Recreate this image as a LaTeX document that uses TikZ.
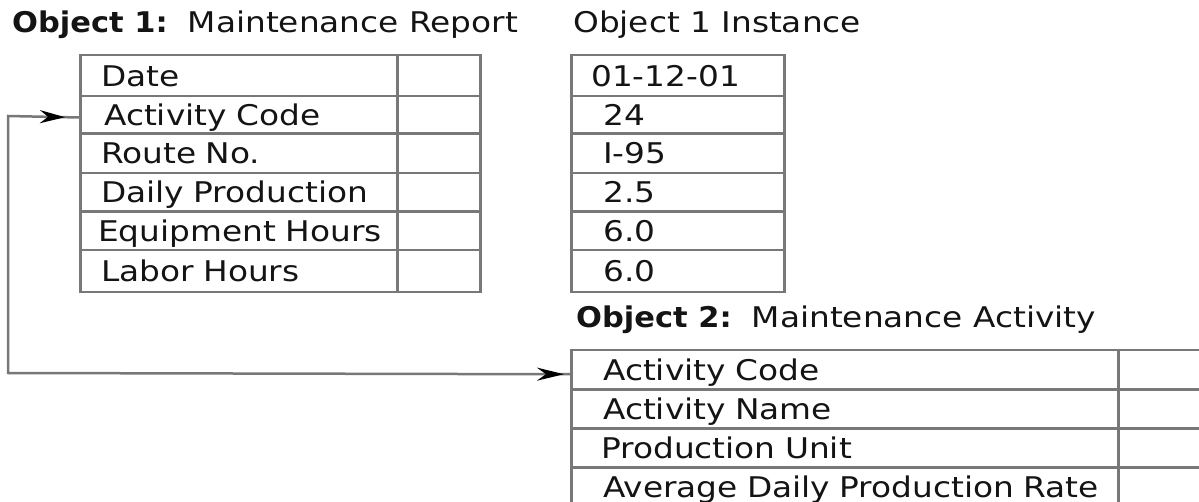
\documentclass[tikz,border=0pt]{standalone}
\usepackage{fontspec}
\setmainfont{DejaVu Sans}[FakeStretch=1.15, BoldFeatures={FakeStretch=1.07}]
\usetikzlibrary{arrows.meta,decorations.markings}
\definecolor{linegray}{HTML}{787878}
\definecolor{txt}{HTML}{141414}
\tikzset{
  txtfont/.style={font=\fontsize{28.5pt}{34pt}\selectfont, text=txt},
  cellbox/.style={draw=linegray, line width=2.5pt, rectangle, anchor=north west,
    inner ysep=0pt, text height=20.8pt, text depth=0pt, align=left, txtfont},
  caption/.style={anchor=base west, inner sep=0pt, txtfont},
  conn/.style={draw=linegray, line width=2.5pt,
    postaction={decorate, decoration={markings,
      mark=at position 14pt with {\arrowreversed[black]{Stealth[length=25pt,width=13pt,inset=8pt]}},
      mark=at position -6pt with {\arrow[black]{Stealth[length=27pt,width=13pt,inset=9pt]}}}}}
}
\begin{document}
\begin{tikzpicture}[x=1pt,y=-1pt]
\useasboundingbox (0,0) rectangle (1199,502);
\clip (0,0) rectangle (1199,502);
\fill[white] (0,0) rectangle (1199,502);

% captions
\node[caption] (cap1) at (12,33) {\textbf{Object 1:}\hspace{20pt}Maintenance Report};
\node[caption] (cap2) at (573,33) {Object 1 Instance};
\node[caption] (cap3) at (576,328) {\textbf{Object 2:}\hspace{20pt}Maintenance Activity};

% Table 1: Maintenance Report
\node[cellbox, inner xsep=21pt, text width=275pt, minimum width=317pt, minimum height=41pt] (t1a) at (79,54) {\mbox{Date}};
\node[cellbox, inner xsep=24pt, text width=269pt, minimum width=317pt, minimum height=37.5pt] (t1b) at (79,95) {\mbox{Activity Code}};
\node[cellbox, inner xsep=21pt, text width=275pt, minimum width=317pt, minimum height=39.5pt] (t1c) at (79,132.5) {\mbox{Route No.}};
\node[cellbox, inner xsep=21pt, text width=275pt, minimum width=317pt, minimum height=38.5pt] (t1d) at (79,172) {\mbox{Daily Production}};
\node[cellbox, inner xsep=18pt, text width=281pt, minimum width=317pt, minimum height=38.5pt] (t1e) at (79,210.5) {\mbox{Equipment Hours}};
\node[cellbox, inner xsep=21pt, text width=275pt, minimum width=317pt, minimum height=42pt] (t1f) at (79,249) {\mbox{Labor Hours}};
\node[cellbox, minimum width=83pt, minimum height=41pt] (t1va) at (396,54) {};
\node[cellbox, minimum width=83pt, minimum height=37.5pt] (t1vb) at (396,95) {};
\node[cellbox, minimum width=83pt, minimum height=39.5pt] (t1vc) at (396,132.5) {};
\node[cellbox, minimum width=83pt, minimum height=38.5pt] (t1vd) at (396,172) {};
\node[cellbox, minimum width=83pt, minimum height=38.5pt] (t1ve) at (396,210.5) {};
\node[cellbox, minimum width=83pt, minimum height=42pt] (t1vf) at (396,249) {};

% Table 2: Object 1 Instance
\node[cellbox, inner xsep=20pt, text width=173pt, minimum width=213pt, minimum height=41pt] (t2a) at (570,54) {\mbox{01-12-01}};
\node[cellbox, inner xsep=32pt, text width=149pt, minimum width=213pt, minimum height=37.5pt] (t2b) at (570,95) {\mbox{24}};
\node[cellbox, inner xsep=32pt, text width=149pt, minimum width=213pt, minimum height=39.5pt] (t2c) at (570,132.5) {\mbox{I-95}};
\node[cellbox, inner xsep=32pt, text width=149pt, minimum width=213pt, minimum height=38.5pt] (t2d) at (570,172) {\mbox{2.5}};
\node[cellbox, inner xsep=32pt, text width=149pt, minimum width=213pt, minimum height=38.5pt] (t2e) at (570,210.5) {\mbox{6.0}};
\node[cellbox, inner xsep=32pt, text width=149pt, minimum width=213pt, minimum height=42pt] (t2f) at (570,249) {\mbox{6.0}};

% Table 3: Maintenance Activity
\node[cellbox, inner xsep=32pt, text width=483pt, minimum width=547pt, minimum height=39pt] (t3a) at (570,349) {\mbox{Activity Code}};
\node[cellbox, inner xsep=32pt, text width=483pt, minimum width=547pt, minimum height=39pt] (t3b) at (570,388) {\mbox{Activity Name}};
\node[cellbox, inner xsep=30pt, text width=487pt, minimum width=547pt, minimum height=39pt] (t3c) at (570,427) {\mbox{Production Unit}};
\node[cellbox, inner xsep=32pt, text width=483pt, minimum width=547pt, minimum height=39pt] (t3d) at (570,466) {\mbox{Average Daily Production Rate}};
\node[cellbox, minimum width=120pt, minimum height=39pt] (t3va) at (1117,349) {};
\node[cellbox, minimum width=120pt, minimum height=39pt] (t3vb) at (1117,388) {};
\node[cellbox, minimum width=120pt, minimum height=39pt] (t3vc) at (1117,427) {};
\node[cellbox, minimum width=120pt, minimum height=39pt] (t3vd) at (1117,466) {};

% connector
\coordinate (elbowtop) at (8,116);
\coordinate (elbowbot) at (8,373);
\path[conn] ([yshift=-2.5pt]t1b.west) -- (elbowtop) -- (elbowbot) -- ([yshift=-4.5pt]t3a.west);
\end{tikzpicture}
\end{document}
